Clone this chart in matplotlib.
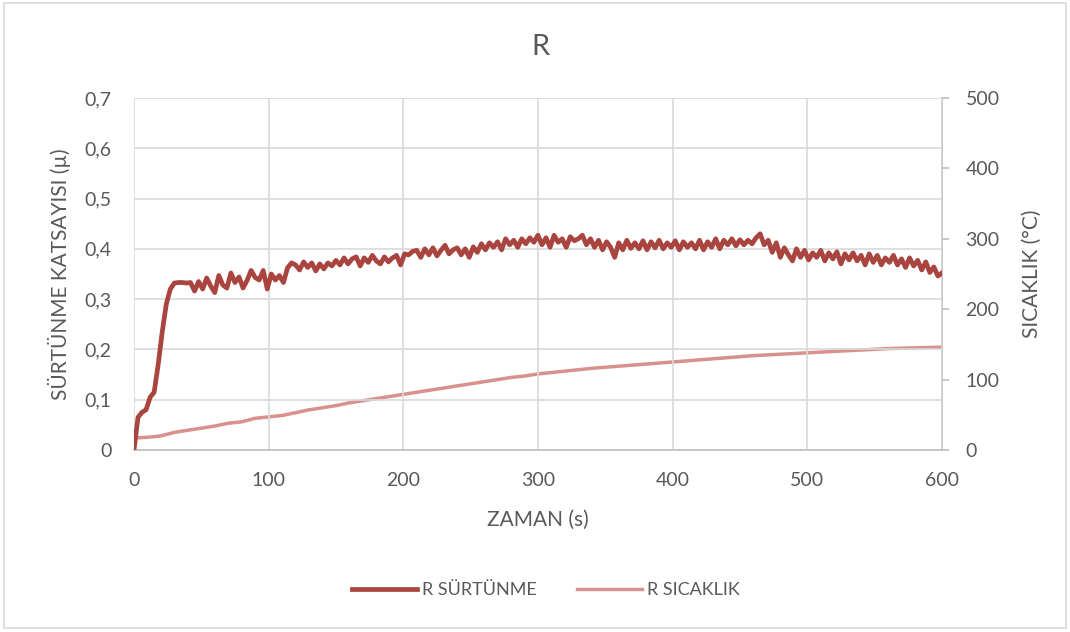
"""
R friction coefficient and temperature vs time
"""

import numpy as np
from matplotlib import pyplot as plt
from matplotlib.patches import Rectangle

# time axis (s), friction read every 3 s
time_s = np.arange(0, 601, 3)

friction = [
    0.0, 0.065, 0.075, 0.08, 0.105, 0.115, 0.17, 0.235, 0.29, 0.32,
    0.332, 0.333, 0.333, 0.332, 0.333, 0.316, 0.335, 0.32, 0.342, 0.326,
    0.313, 0.347, 0.328, 0.322, 0.352, 0.333, 0.344, 0.322, 0.337, 0.357,
    0.343, 0.338, 0.357, 0.32, 0.35, 0.338, 0.347, 0.333, 0.362, 0.372,
    0.368, 0.358, 0.374, 0.363, 0.372, 0.356, 0.37, 0.36, 0.372, 0.366,
    0.377, 0.368, 0.382, 0.37, 0.38, 0.384, 0.366, 0.382, 0.373, 0.387,
    0.376, 0.37, 0.384, 0.374, 0.382, 0.387, 0.368, 0.39, 0.388, 0.395,
    0.397, 0.383, 0.4, 0.388, 0.402, 0.386, 0.397, 0.407, 0.39, 0.398,
    0.402, 0.388, 0.4, 0.383, 0.404, 0.393, 0.41, 0.398, 0.412, 0.403,
    0.414, 0.398, 0.42, 0.408, 0.417, 0.403, 0.42, 0.41, 0.422, 0.413,
    0.427, 0.408, 0.422, 0.403, 0.427, 0.413, 0.42, 0.403, 0.424, 0.416,
    0.42, 0.427, 0.408, 0.42, 0.403, 0.417, 0.398, 0.414, 0.403, 0.383,
    0.412, 0.398, 0.417, 0.401, 0.412, 0.4, 0.416, 0.398, 0.414, 0.402,
    0.417, 0.4, 0.412, 0.403, 0.416, 0.398, 0.414, 0.403, 0.412, 0.4,
    0.417, 0.398, 0.414, 0.403, 0.42, 0.4, 0.417, 0.408, 0.42, 0.406,
    0.418, 0.408, 0.417, 0.41, 0.422, 0.43, 0.408, 0.417, 0.393, 0.412,
    0.383, 0.402, 0.388, 0.376, 0.4, 0.383, 0.397, 0.378, 0.392, 0.383,
    0.397, 0.376, 0.392, 0.38, 0.394, 0.37, 0.39, 0.378, 0.392, 0.376,
    0.387, 0.368, 0.39, 0.373, 0.387, 0.368, 0.382, 0.373, 0.387, 0.368,
    0.38, 0.363, 0.382, 0.366, 0.377, 0.358, 0.374, 0.353, 0.364, 0.346,
    0.352,
]

temp_time = [0, 10, 20, 30, 40, 50, 60, 70, 80, 90, 100, 110, 120, 130,
             140, 150, 160, 170, 180, 190, 200, 210, 220, 230, 240, 250,
             260, 270, 280, 290, 300, 320, 340, 360, 380, 400, 420, 440,
             460, 480, 500, 520, 540, 560, 580, 600]
temperature = [17, 18, 20, 25, 28, 31, 34, 38, 40, 45, 47, 49, 53, 57,
               60, 63, 67, 70, 73, 76, 79, 82, 85, 88, 91, 94,
               97, 100, 103, 105, 108, 112, 116, 119, 122, 125, 128, 131,
               134, 136, 138, 140, 142, 144, 145, 146]

x_ticks = [0, 100, 200, 300, 400, 500, 600]
y_ticks = [0, 0.1, 0.2, 0.3, 0.4, 0.5, 0.6, 0.7]
y_ticklabels = ['0', '0,1', '0,2', '0,3', '0,4', '0,5', '0,6', '0,7']
t_ticks = [0, 100, 200, 300, 400, 500]

FRIC_COLOR = '#A9443F'
TEMP_COLOR = '#D8918D'
TEXT_COLOR = '#595959'
GRID_COLOR = '#D9D9D9'


def main():
    plt.rcParams['font.family'] = ['Lato', 'DejaVu Sans']
    fig = plt.figure(figsize=(10.7, 6.32), dpi=100)
    fig.patches.append(Rectangle((0.004, 0.006), 0.992, 0.99,
                                 transform=fig.transFigure, fill=False,
                                 edgecolor='#D9D9D9', linewidth=1.2))
    ax = fig.add_axes([0.1252, 0.288, 0.7551, 0.557])
    ax2 = ax.twinx()

    l1, = ax.plot(time_s, friction, color=FRIC_COLOR, lw=3.4,
                  solid_joinstyle='round', label='R SÜRTÜNME', zorder=3)
    l2, = ax2.plot(temp_time, temperature, color=TEMP_COLOR, lw=2.5,
                   label='R SICAKLIK', zorder=2)
    ax.set_zorder(ax2.get_zorder() + 1)
    ax.patch.set_visible(False)

    ax.set_xlim(0, 600)
    ax.set_ylim(0, 0.7)
    ax2.set_ylim(0, 500)
    ax.set_xticks(x_ticks)
    ax.set_yticks(y_ticks)
    ax.set_yticklabels(y_ticklabels)
    ax2.set_yticks(t_ticks)

    ax.grid(True, color=GRID_COLOR, lw=1.2)
    ax.set_axisbelow(True)
    for s in ['top', 'left', 'right']:
        ax.spines[s].set_visible(False)
    ax.spines['bottom'].set_color('#BFBFBF')
    ax.spines['bottom'].set_linewidth(1.2)
    for s in ['top', 'left', 'bottom']:
        ax2.spines[s].set_visible(False)
    ax2.spines['right'].set_color('#BFBFBF')
    ax2.spines['right'].set_linewidth(1.2)

    ax.tick_params(axis='x', length=0, labelsize=14, colors=TEXT_COLOR,
                   pad=16)
    ax.tick_params(axis='y', length=0, labelsize=14, colors=TEXT_COLOR,
                   pad=16)
    ax2.tick_params(axis='y', length=5, width=1.2, color='#BFBFBF',
                    labelsize=14, labelcolor=TEXT_COLOR, pad=12)

    ax.set_xlabel('ZAMAN (s)', fontsize=15, color=TEXT_COLOR, labelpad=15)
    ax.set_ylabel('SÜRTÜNME KATSAYISI (µ)', fontsize=15, color=TEXT_COLOR,
                  labelpad=10)
    ax2.set_ylabel('SICAKLIK (°C)', fontsize=15, color=TEXT_COLOR,
                   labelpad=16)
    fig.text(0.505, 0.925, 'R', fontsize=21, color=TEXT_COLOR,
             ha='center', va='center')

    fig.legend([l1, l2], ['R SÜRTÜNME', 'R SICAKLIK'], loc='center',
               bbox_to_anchor=(0.51, 0.066), ncol=2, frameon=False,
               fontsize=13, labelcolor=TEXT_COLOR, handlelength=3.6,
               handletextpad=0.3, columnspacing=2.2)

    plt.savefig('out.png', dpi=100)


if __name__ == "__main__":
    main()
